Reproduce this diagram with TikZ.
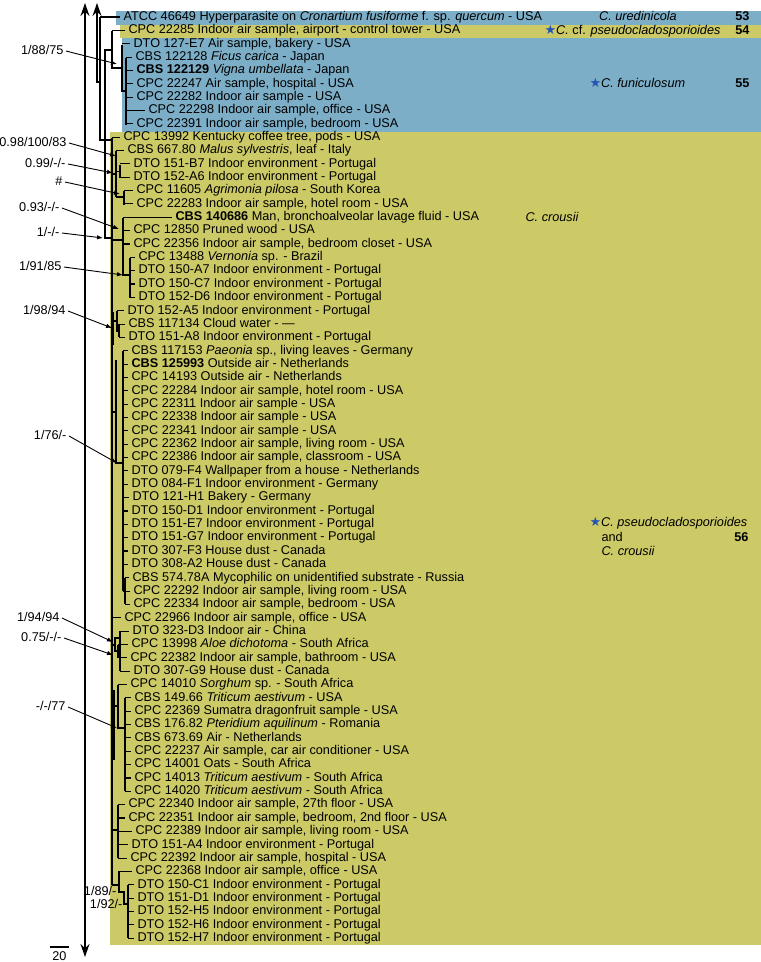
\documentclass[tikz,border=0pt]{standalone}
\usepackage{fontspec}
\setmainfont{Liberation Sans}
\newfontfamily\starfont{DejaVu Sans}
\usetikzlibrary{arrows.meta}
\definecolor{cladeblue}{RGB}{124,174,199}
\definecolor{cladeyellow}{RGB}{204,202,102}
\definecolor{starblue}{RGB}{38,84,180}
\newcommand{\clstar}{{\color{starblue}\fontsize{13}{13}\starfont ★}}

\begin{document}
\begin{tikzpicture}[x=1pt,y=-1pt,line width=1.1pt,font=\fontsize{12.7}{14}\selectfont]
\tikzstyle{taxon}=[anchor=west,inner xsep=3pt,inner ysep=0pt,text height=9.2pt,text depth=2.6pt]
\tikzstyle{lbl}=[inner sep=0pt,text height=9.2pt,text depth=2.6pt]
\tikzstyle{support}=[anchor=east,inner xsep=2pt,inner ysep=0pt,text height=9.2pt,text depth=2.6pt]
\tikzstyle{suparrow}=[-{Latex[length=6pt,width=4.5pt]},line width=0.9pt]
\tikzstyle{rootarrow}=[line width=1.3pt]
\useasboundingbox (0,0) rectangle (761,962);

% clade boxes
\fill[cladeblue] (116,11) rectangle (761,24.5);
\fill[cladeyellow] (120,24.5) rectangle (761,38);
\fill[cladeblue] (122,38) rectangle (761,131.5);
\fill[cladeyellow] (110,131.5) rectangle (761,945);

% truncated root branches
\draw[rootarrow,{Stealth[length=13pt,width=9pt]}-{Stealth[length=13pt,width=9pt]}] (85,3) -- (85,957);
\draw[rootarrow,{Stealth[length=13pt,width=9pt]}-] (97,3) |- (100,82);

% backbone
\draw (100,17) |- (112,140);
\draw (112,50) -| (105,238) -- (112,238);
\draw (112,31) -- (112,68) -- (122,68);
\draw (122,45) -- (122,91) -- (126,91);
\draw (126,58) -- (126,125);
\draw (112,138) -- (112,885);
% yellow clade
\draw (116,151) -- (116,197);
\draw (112,174) -- (116,174);
\draw (120,165) -- (120,178);
\draw (116,171.5) -- (120,171.5);
\draw (124,191) -- (124,205);
\draw (116,197) -- (124,197);
\draw (123,218) -- (123,275) -- (130,275);
\draw (112,240) -- (123,240);
\draw[line width=2pt] (122.5,232) -- (122.5,258);
\draw (130,258) -- (130,298);
\draw (117,311) -- (117,331) -- (119,331);
\draw (112,321) -- (117,321);
\draw (119,324) -- (119,337.4);
\draw[line width=2pt] (112.5,312) -- (112.5,345);
\draw (123,351) -- (123,591);
\draw (116,360) -- (116,463) -- (123,463);
\draw (112,412) -- (116,412);
\draw (125,577.7) -- (125,604.4);
\draw (123,591) -- (125,591);
\draw[line width=2pt] (125,578) -- (125,595);
\draw (120,631) -- (120,671.2);
\draw (118,644.5) -- (118,657.8);
\draw (120,638) -| (115,651) -- (118,651);
\draw (112,645) -- (115,645);
\draw (118,684.5) -- (118,728) -- (125,728);
\draw (125,697.8) -- (125,791.3);
\draw (112,706) -- (118,706);
\draw[line width=2pt] (113.5,690) -- (113.5,760);
\draw (118,804.6) -- (118,858);
\draw (112,830) -- (118,830);
\draw (119,871.4) -- (119,892) -- (124,892) -- (124,904) -- (128,904);
\draw (112,885) -- (119,885);
\draw (128,884.8) -- (128,938.2);

% taxa
\foreach \r/\s/\x/\t in {
 1/100/123/{ATCC 46649 Hyperparasite on \textit{Cronartium fusiforme} f. sp. \textit{quercum} - USA},
 2/112/128/{CPC 22285 Indoor air sample, airport - control tower - USA},
 3/122/133/{DTO 127-E7 Air sample, bakery - USA},
 4/126/135/{CBS 122128 \textit{Ficus carica} - Japan},
 5/126/136/{\textbf{CBS 122129} \textit{Vigna umbellata} - Japan},
 6/126/136/{CPC 22247 Air sample, hospital - USA},
 7/126/136/{CPC 22282 Indoor air sample - USA},
 8/126/148/{CPC 22298 Indoor air sample, office - USA},
 9/126/136/{CPC 22391 Indoor air sample, bedroom - USA},
 10/112/123/{CPC 13992 Kentucky coffee tree, pods - USA},
 11/116/127/{CBS 667.80 \textit{Malus sylvestris}, leaf - Italy},
 12/120/133/{DTO 151-B7 Indoor environment - Portugal},
 13/120/133/{DTO 152-A6 Indoor environment - Portugal},
 14/124/136/{CPC 11605 \textit{Agrimonia pilosa} - South Korea},
 15/124/136/{CPC 22283 Indoor air sample, hotel room - USA},
 16/123/175/{\textbf{CBS 140686} Man, bronchoalveolar lavage fluid - USA},
 17/123/133/{CPC 12850 Pruned wood - USA},
 18/123/133/{CPC 22356 Indoor air sample, bedroom closet - USA},
 19/130/138/{CPC 13488 \textit{Vernonia} sp. - Brazil},
 20/130/138/{DTO 150-A7 Indoor environment - Portugal},
 21/130/138/{DTO 150-C7 Indoor environment - Portugal},
 22/130/138/{DTO 152-D6 Indoor environment - Portugal},
 23/117/127/{DTO 152-A5 Indoor environment - Portugal},
 24/119/128/{CBS 117134 Cloud water - —},
 25/119/128/{DTO 151-A8 Indoor environment - Portugal},
 26/123/131/{CBS 117153 \textit{Paeonia} sp., living leaves - Germany},
 27/123/131/{\textbf{CBS 125993} Outside air - Netherlands},
 28/123/131/{CPC 14193 Outside air - Netherlands},
 29/123/131/{CPC 22284 Indoor air sample, hotel room - USA},
 30/123/131/{CPC 22311 Indoor air sample - USA},
 31/123/131/{CPC 22338 Indoor air sample - USA},
 32/123/131/{CPC 22341 Indoor air sample - USA},
 33/123/131/{CPC 22362 Indoor air sample, living room - USA},
 34/123/131/{CPC 22386 Indoor air sample, classroom - USA},
 35/123/131/{DTO 079-F4 Wallpaper from a house - Netherlands},
 36/123/131/{DTO 084-F1 Indoor environment - Germany},
 37/123/132/{DTO 121-H1 Bakery - Germany},
 38/123/131/{DTO 150-D1 Indoor environment - Portugal},
 39/123/131/{DTO 151-E7 Indoor environment - Portugal},
 40/123/131/{DTO 151-G7 Indoor environment - Portugal},
 41/123/131/{DTO 307-F3 House dust - Canada},
 42/123/131/{DTO 308-A2 House dust - Canada},
 43/125/132/{CBS 574.78A Mycophilic on unidentified substrate - Russia},
 44/125/133/{CPC 22292 Indoor air sample, living room - USA},
 45/125/133/{CPC 22334 Indoor air sample, bedroom - USA},
 46/112/124/{CPC 22966 Indoor air sample, office - USA},
 47/120/132/{DTO 323-D3 Indoor air - China},
 48/118/131/{CPC 13998 \textit{Aloe dichotoma} - South Africa},
 49/118/130/{CPC 22382 Indoor air sample, bathroom - USA},
 50/120/133/{DTO 307-G9 House dust - Canada},
 51/118/130/{CPC 14010 \textit{Sorghum} sp. - South Africa},
 52/125/134/{CBS 149.66 \textit{Triticum aestivum} - USA},
 53/125/134/{CPC 22369 Sumatra dragonfruit sample - USA},
 54/125/134/{CBS 176.82 \textit{Pteridium aquilinum} - Romania},
 55/125/134/{CBS 673.69 Air - Netherlands},
 56/125/134/{CPC 22237 Air sample, car air conditioner - USA},
 57/125/134/{CPC 14001 Oats - South Africa},
 58/125/134/{CPC 14013 \textit{Triticum aestivum} - South Africa},
 59/125/134/{CPC 14020 \textit{Triticum aestivum} - South Africa},
 60/118/128/{CPC 22340 Indoor air sample, 27th floor - USA},
 61/118/128/{CPC 22351 Indoor air sample, bedroom, 2nd floor - USA},
 62/118/135/{CPC 22389 Indoor air sample, living room - USA},
 63/118/131/{DTO 151-A4 Indoor environment - Portugal},
 64/118/130/{CPC 22392 Indoor air sample, hospital - USA},
 65/119/135/{CPC 22368 Indoor air sample, office - USA},
 66/128/137/{DTO 150-C1 Indoor environment - Portugal},
 67/128/137/{DTO 151-D1 Indoor environment - Portugal},
 68/128/137/{DTO 152-H5 Indoor environment - Portugal},
 69/128/137/{DTO 152-H6 Indoor environment - Portugal},
 70/128/137/{DTO 152-H7 Indoor environment - Portugal}}
{
 \pgfmathsetmacro\yy{3.65+13.35*\r}
 \node[taxon] (t\r) at ({\x-3},\yy) {\t};
 \draw (\s,\yy) -- (t\r.west);
}

% support values
\foreach \n/\lx/\ly/\cx/\cy/\t in {
 a/66/51/117/64/{1/88/75},
 b/69/143/116/156/{0.98/100/83},
 c/68/164/113/173/{0.99/-/-},
 d/65/182/120/194/{\#},
 e/62/208/119/229/{0.93/-/-},
 f/62/233/103/238/{1/-/-},
 g/64/267/123/275/{1/91/85},
 h/68/311/112/328/{1/98/94},
 i/69/436/117/463/{1/76/-},
 j/62/618/113/642/{1/94/94},
 k/64/638/113/655/{0.75/-/-},
 l/68/707/117/728/{-/-/77}}
{
 \node[support] (s\n) at (\lx,\ly) {\t};
 \coordinate (c\n) at (\cx,\cy);
 \draw[suparrow] (s\n.east) -- (c\n);
}
\node[support] (sm) at (119,892) {1/89/-};
\node[support] (sn) at (125,905) {1/92/-};

% species names
\node[lbl] (sp53) at (638,17) {\textit{C. uredinicola}};
\node[lbl,anchor=east] (n53) at (750,17) {\textbf{53}};
\node[lbl,anchor=west] (sp54) at (544,31) {\clstar\textit{C.} cf. \textit{pseudocladosporioides}};
\node[lbl,anchor=east] (n54) at (750,31) {\textbf{54}};
\node[lbl,anchor=west] (sp55) at (589,84) {\clstar\textit{C. funiculosum}};
\node[lbl,anchor=east] (n55) at (750,84) {\textbf{55}};
\node[lbl,anchor=west] (cr16) at (525,218) {\textit{C. crousii}};
\node[lbl,anchor=west] (sp56) at (589,523) {\clstar\textit{C. pseudocladosporioides}};
\node[lbl,anchor=west] (and56) at (601,538) {and};
\node[lbl,anchor=west] (cr56) at (601,552) {\textit{C. crousii}};
\node[lbl,anchor=east] (n56) at (749,538) {\textbf{56}};

% scale
\draw (50,947) -- (69,947);
\node[lbl] (sc) at (59.5,957) {20};
\end{tikzpicture}
\end{document}
